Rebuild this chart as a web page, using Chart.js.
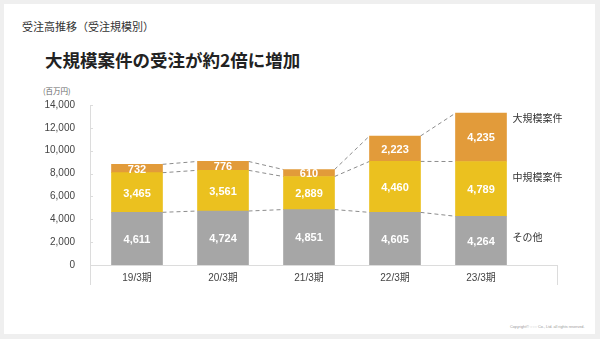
<!DOCTYPE html>
<html lang="ja">
<head>
<meta charset="utf-8">
<script src="https://cdn.jsdelivr.net/npm/chart.js@4"></script>
<style>
  html, body { margin: 0; padding: 0; }
  body { width: 600px; height: 339px; background: #efefef; position: relative; overflow: hidden;
         font-family: 'Liberation Sans', 'Noto Sans CJK JP', sans-serif; }
  #card { position: absolute; left: 4px; top: 4px; width: 591px; height: 330px; background: #fff; }
  #chart { position: absolute; left: 0; top: 0; width: 600px; height: 339px; }
  .t { position: absolute; white-space: nowrap; }
  #sub { left: 22px; top: 18px; font-size: 11px; color: #333; font-family: 'Noto Sans CJK JP', sans-serif; }
  #main { left: 45px; top: 47px; font-size: 17.5px; font-weight: bold; color: #222; font-family: 'Noto Sans CJK JP', sans-serif; }
  #unit { left: 43px; top: 85px; font-size: 7.5px; color: #666; font-family: 'Noto Sans CJK JP', sans-serif; }
  #copy { left: 510px; top: 325px; font-size: 3.8px; color: #999; }
</style>
</head>
<body>
<div id="card"></div>
<div class="t" id="sub">受注高推移（受注規模別）</div>
<div class="t" id="main">大規模案件の受注が約2倍に増加</div>
<div class="t" id="unit">(百万円)</div>
<div class="t" id="copy">Copyright© ○○○ Co., Ltd. all rights reserved.</div>
<canvas id="chart" width="600" height="339"></canvas>
<script>
const categories = ['19/3期', '20/3期', '21/3期', '22/3期', '23/3期'];
const seriesNames = ['その他', '中規模案件', '大規模案件'];
const otherValues = [4611, 4724, 4851, 4605, 4264];
const midValues = [3465, 3561, 2889, 4460, 4789];
const largeValues = [732, 776, 610, 2223, 4235];
const yTicks = [0, 2000, 4000, 6000, 8000, 10000, 12000, 14000];

const colors = ['#a6a6a6', '#ebc11f', '#e29b3a'];
const allSeries = [otherValues, midValues, largeValues];

const LATIN = "'Liberation Sans', 'Noto Sans CJK JP', sans-serif";

const decorPlugin = {
  id: 'decor',
  beforeDatasetsDraw(chart) {
    const ctx = chart.ctx, a = chart.chartArea;
    const axL = a.left - 4, axR = a.right + 34;
    ctx.save();
    ctx.strokeStyle = '#dcdcdc';
    ctx.lineWidth = 1;
    ctx.beginPath();
    ctx.moveTo(axL + 0.5, a.top);
    ctx.lineTo(axL + 0.5, a.bottom + 20);
    ctx.moveTo(axL, a.bottom + 0.5);
    ctx.lineTo(axR, a.bottom + 0.5);
    ctx.moveTo(axR - 0.5, a.bottom);
    ctx.lineTo(axR - 0.5, a.bottom + 20);
    const ys = chart.scales.y;
    yTicks.forEach(v => {
      const y = Math.round(ys.getPixelForValue(v)) + 0.5;
      ctx.moveTo(axL, y);
      ctx.lineTo(axL + 3, y);
    });
    ctx.stroke();

    ctx.strokeStyle = '#8c8c8c';
    ctx.setLineDash([4, 3]);
    chart.data.datasets.forEach((ds, di) => {
      const meta = chart.getDatasetMeta(di);
      for (let i = 0; i < meta.data.length - 1; i++) {
        const b0 = meta.data[i], b1 = meta.data[i + 1];
        ctx.beginPath();
        ctx.moveTo(b0.x + b0.width / 2, b0.y);
        ctx.lineTo(b1.x - b1.width / 2, b1.y);
        ctx.stroke();
      }
    });
    ctx.restore();
  },
  afterDatasetsDraw(chart) {
    const ctx = chart.ctx;
    ctx.save();
    ctx.fillStyle = '#fff';
    ctx.font = 'bold 11px ' + LATIN;
    ctx.textAlign = 'center';
    ctx.textBaseline = 'middle';
    chart.data.datasets.forEach((ds, di) => {
      const meta = chart.getDatasetMeta(di);
      meta.data.forEach((bar, i) => {
        const c = bar.getCenterPoint();
        ctx.fillText(allSeries[di][i].toLocaleString('en-US'), c.x, c.y + 1);
      });
    });
    const last = categories.length - 1;
    ctx.fillStyle = '#333';
    ctx.font = "10px 'Noto Sans CJK JP', sans-serif";
    ctx.textAlign = 'left';
    const ys = chart.scales.y;
    const labelY = [ys.getPixelForValue(2400), ys.getPixelForValue(7700), ys.getPixelForValue(12850)];
    seriesNames.forEach((n, di) => {
      const bar = chart.getDatasetMeta(di).data[last];
      ctx.fillText(n, bar.x + bar.width / 2 + 6, labelY[di]);
    });
    ctx.restore();
  }
};

new Chart(document.getElementById('chart'), {
  type: 'bar',
  data: {
    labels: categories,
    datasets: seriesNames.map((n, di) => ({
      label: n,
      data: allSeries[di],
      backgroundColor: colors[di],
      borderWidth: 0,
      barThickness: 51
    }))
  },
  options: {
    responsive: false,
    animation: false,
    layout: { padding: { left: 0, right: 76, top: 105, bottom: 0 } },
    plugins: { legend: { display: false }, tooltip: { enabled: false } },
    scales: {
      x: {
        stacked: true,
        offset: true,
        grid: { display: false, drawTicks: false },
        border: { display: false },
        afterFit: s => { s.height = 74; s.paddingLeft = 0; s.paddingRight = 0; },
        ticks: {
          padding: 7,
          autoSkip: false,
          maxRotation: 0,
          color: '#444',
          font: { size: 10, family: LATIN }
        }
      },
      y: {
        stacked: true,
        min: 0,
        max: 14000,
        grid: { display: false, drawTicks: false },
        border: { display: false },
        afterBuildTicks: s => { s.ticks = yTicks.map(v => ({ value: v })); },
        afterFit: s => { s.width = 94; s.paddingTop = 0; s.paddingBottom = 0; },
        ticks: {
          padding: 19,
          color: '#444',
          font: { size: 10, family: LATIN },
          callback: v => v.toLocaleString('en-US')
        }
      }
    }
  },
  plugins: [decorPlugin]
});
</script>
</body>
</html>
